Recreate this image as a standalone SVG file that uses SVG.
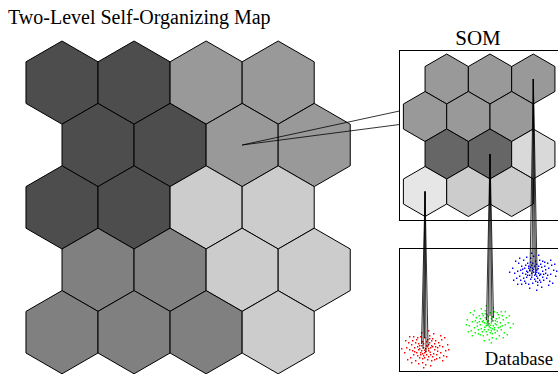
<svg xmlns="http://www.w3.org/2000/svg" xmlns:xlink="http://www.w3.org/1999/xlink" width="558" height="374" viewBox="0 0 558 374">
<style>
.hex{stroke:#000;stroke-width:1;stroke-linejoin:miter}
.d{fill:#4d4d4d}.m{fill:#999999}.l{fill:#cccccc}.g{fill:#808080}
.sd{fill:#666666}.sl{fill:#d9d9d9}.sx{fill:#e6e6e6}
.box{fill:none;stroke:#000;stroke-width:1}
.lk{stroke:#000;stroke-width:0.8;fill:none}
.t{font-family:"Liberation Serif","Times New Roman",serif;fill:#000}
</style>
<defs>
<polygon id="bh" points="0,-41.6 36.03,-20.8 36.03,20.8 0,41.6 -36.03,20.8 -36.03,-20.8"/>
<polygon id="sh" points="0,-25 21.65,-12.5 21.65,12.5 0,25 -21.65,12.5 -21.65,-12.5"/>
<path id="cloud" d="M-2 -1h1.4v1.4h-1.4zM3 2h1.4v1.4h-1.4zM-5 4h1.4v1.4h-1.4zM6 -3h1.4v1.4h-1.4zM1 6h1.4v1.4h-1.4zM-8 -2h1.4v1.4h-1.4zM9 1h1.4v1.4h-1.4zM-3 -7h1.4v1.4h-1.4zM4 -6h1.4v1.4h-1.4zM0 0h1.4v1.4h-1.4zM-11 3h1.4v1.4h-1.4zM12 -1h1.4v1.4h-1.4zM-6 9h1.4v1.4h-1.4zM7 8h1.4v1.4h-1.4zM-1 -11h1.4v1.4h-1.4zM2 11h1.4v1.4h-1.4zM-14 -4h1.4v1.4h-1.4zM15 4h1.4v1.4h-1.4zM-9 -9h1.4v1.4h-1.4zM10 -8h1.4v1.4h-1.4zM-4 2h1.4v1.4h-1.4zM5 -1h1.4v1.4h-1.4zM-7 -5h1.4v1.4h-1.4zM8 5h1.4v1.4h-1.4zM-2 7h1.4v1.4h-1.4zM3 -4h1.4v1.4h-1.4zM-12 6h1.4v1.4h-1.4zM13 -6h1.4v1.4h-1.4zM-16 1h1.4v1.4h-1.4zM17 -2h1.4v1.4h-1.4zM-5 -12h1.4v1.4h-1.4zM6 12h1.4v1.4h-1.4zM-19 -1h1.4v1.4h-1.4zM20 2h1.4v1.4h-1.4zM-10 12h1.4v1.4h-1.4zM11 10h1.4v1.4h-1.4zM-3 14h1.4v1.4h-1.4zM4 -13h1.4v1.4h-1.4zM-13 -8h1.4v1.4h-1.4zM14 9h1.4v1.4h-1.4zM1 -3h1.4v1.4h-1.4zM-1 4h1.4v1.4h-1.4zM2 -9h1.4v1.4h-1.4zM-6 0h1.4v1.4h-1.4zM7 -10h1.4v1.4h-1.4zM-8 7h1.4v1.4h-1.4zM9 -5h1.4v1.4h-1.4zM-15 9h1.4v1.4h-1.4zM16 -9h1.4v1.4h-1.4zM0 16h1.4v1.4h-1.4zM-21 4h1.4v1.4h-1.4zM22 -4h1.4v1.4h-1.4zM-17 -6h1.4v1.4h-1.4zM18 7h1.4v1.4h-1.4zM-7 15h1.4v1.4h-1.4zM8 -15h1.4v1.4h-1.4zM-4 -16h1.4v1.4h-1.4zM5 17h1.4v1.4h-1.4zM-18 11h1.4v1.4h-1.4zM19 -11h1.4v1.4h-1.4zM-1 1.5h1.4v1.4h-1.4zM2 -2h1.4v1.4h-1.4zM-3 5h1.4v1.4h-1.4zM4.5 3.5h1.4v1.4h-1.4zM-6 -3h1.4v1.4h-1.4zM5 6h1.4v1.4h-1.4zM-9 4h1.4v1.4h-1.4zM10 -2h1.4v1.4h-1.4zM-2 -5h1.4v1.4h-1.4zM3 8h1.4v1.4h-1.4zM-11 -1h1.4v1.4h-1.4zM12 2.5h1.4v1.4h-1.4zM-5 6h1.4v1.4h-1.4zM6 -8h1.4v1.4h-1.4zM-8 -11h1.4v1.4h-1.4zM9 11h1.4v1.4h-1.4zM-13 2h1.4v1.4h-1.4zM14 -3h1.4v1.4h-1.4zM-1 9h1.4v1.4h-1.4zM1 -7h1.4v1.4h-1.4zM-24 0h1.4v1.4h-1.4zM23 1h1.4v1.4h-1.4zM-20 -8h1.4v1.4h-1.4zM21 8h1.4v1.4h-1.4zM-14 14h1.4v1.4h-1.4zM15 -13h1.4v1.4h-1.4zM-2 19h1.4v1.4h-1.4zM3 -18h1.4v1.4h-1.4zM-16 -12h1.4v1.4h-1.4zM17 12h1.4v1.4h-1.4zM-4 -3h1.4v1.4h-1.4zM0 3h1.4v1.4h-1.4zM3 0h1.4v1.4h-1.4zM-7 1h1.4v1.4h-1.4zM7 -2h1.4v1.4h-1.4zM-3 10h1.4v1.4h-1.4zM4 -10h1.4v1.4h-1.4zM-10 -6h1.4v1.4h-1.4zM11 6h1.4v1.4h-1.4zM-12 -12h1.4v1.4h-1.4z"/>
</defs>
<rect width="558" height="374" fill="#fff"/>
<text class="t" x="8" y="24" font-size="20">Two-Level Self-Organizing Map</text>

<g id="bigmap">
<g id="b00"><use href="#bh" class="hex d" x="62" y="82.6"/></g>
<g id="b01"><use href="#bh" class="hex d" x="134.06" y="82.6"/></g>
<g id="b02"><use href="#bh" class="hex m" x="206.12" y="82.6"/></g>
<g id="b03"><use href="#bh" class="hex m" x="278.18" y="82.6"/></g>
<g id="b10"><use href="#bh" class="hex d" x="98.03" y="145"/></g>
<g id="b11"><use href="#bh" class="hex d" x="170.09" y="145"/></g>
<g id="b12"><use href="#bh" class="hex m" x="242.15" y="145"/></g>
<g id="b13"><use href="#bh" class="hex m" x="314.21" y="145"/></g>
<g id="b20"><use href="#bh" class="hex d" x="62" y="207.4"/></g>
<g id="b21"><use href="#bh" class="hex d" x="134.06" y="207.4"/></g>
<g id="b22"><use href="#bh" class="hex l" x="206.12" y="207.4"/></g>
<g id="b23"><use href="#bh" class="hex l" x="278.18" y="207.4"/></g>
<g id="b30"><use href="#bh" class="hex g" x="98.03" y="269.8"/></g>
<g id="b31"><use href="#bh" class="hex g" x="170.09" y="269.8"/></g>
<g id="b32"><use href="#bh" class="hex l" x="242.15" y="269.8"/></g>
<g id="b33"><use href="#bh" class="hex l" x="314.21" y="269.8"/></g>
<g id="b40"><use href="#bh" class="hex g" x="62" y="332.2"/></g>
<g id="b41"><use href="#bh" class="hex g" x="134.06" y="332.2"/></g>
<g id="b42"><use href="#bh" class="hex g" x="206.12" y="332.2"/></g>
<g id="b43"><use href="#bh" class="hex l" x="278.18" y="332.2"/></g>
</g>

<g id="som">
<text class="t" x="478" y="45" font-size="21" text-anchor="middle">SOM</text>
<rect class="box" x="399.5" y="50.5" width="165" height="170"/>
<g id="s00"><use href="#sh" class="hex m" x="446.7" y="79"/></g>
<g id="s01"><use href="#sh" class="hex m" x="490" y="79"/></g>
<g id="s02"><use href="#sh" class="hex m" x="533.3" y="79"/></g>
<g id="s10"><use href="#sh" class="hex m" x="425.05" y="116.5"/></g>
<g id="s11"><use href="#sh" class="hex m" x="468.35" y="116.5"/></g>
<g id="s12"><use href="#sh" class="hex m" x="511.65" y="116.5"/></g>
<g id="s20"><use href="#sh" class="hex sd" x="446.7" y="154"/></g>
<g id="s21"><use href="#sh" class="hex sd" x="490" y="154"/></g>
<g id="s22"><use href="#sh" class="hex sl" x="533.3" y="154"/></g>
<g id="s30"><use href="#sh" class="hex sx" x="425.05" y="191.5"/></g>
<g id="s31"><use href="#sh" class="hex l" x="468.35" y="191.5"/></g>
<g id="s32"><use href="#sh" class="hex l" x="511.65" y="191.5"/></g>
</g>

<g id="database">
<rect class="box" x="399.5" y="248.5" width="165" height="123"/>
<text class="t" x="553" y="365" font-size="18.6" text-anchor="end">Database</text>
<g id="red"><use href="#cloud" fill="#ff0000" x="425" y="348"/></g>
<g id="green"><use href="#cloud" fill="#00ff00" transform="translate(490 323) scale(-1 1)"/></g>
<g id="blue"><use href="#cloud" fill="#0000ff" transform="translate(533 273) scale(1 -1)"/></g>
</g>

<g id="connectors">
<path class="lk" d="M242.15 145L399.5 111M242.15 145L399.5 124.5"/>
<path class="lk" d="M425.05 191.5L421.5 344M425.05 191.5L423 349M425.05 191.5L424.5 338M425.05 191.5L426 352M425.05 191.5L428 346"/>
<path class="lk" d="M490 154L486.5 320M490 154L488 326M490 154L490 316M490 154L492 322M490 154L493.5 318"/>
<path class="lk" d="M533.3 79L530 272M533.3 79L532 276M533.3 79L534 268M533.3 79L535.5 274M533.3 79L537 270"/>
</g>
</svg>
